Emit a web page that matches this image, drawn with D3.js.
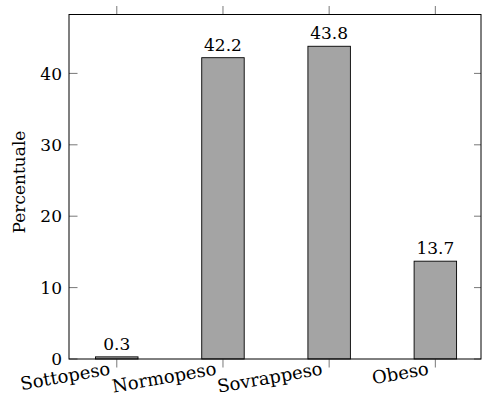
<!DOCTYPE html>
<html>
<head>
<meta charset="utf-8">
<script src="https://cdn.jsdelivr.net/npm/d3@7"></script>
<style>
  html, body { margin: 0; padding: 0; background: #fff; }
  svg { display: block; }
  text { font-family: "DejaVu Serif", "Liberation Serif", serif; fill: #000; }
</style>
</head>
<body>
<svg id="chart" width="482" height="396"></svg>
<script>
const categories = ["Sottopeso", "Normopeso", "Sovrappeso", "Obeso"];
const values = [0.3, 42.2, 43.8, 13.7];
const yTicks = [0, 10, 20, 30, 40];
const yLabel = "Percentuale";

const svg = d3.select("#chart");
const L = 69, R = 481, T = 14.5, B = 359;
const fontSize = 17;

const x = d3.scaleLinear().domain([-0.45, 3.43]).range([L, R]);
const y = d3.scaleLinear().domain([0, 48.25]).range([B, T]);
const barW = x(0.4) - x(0);

// bars
svg.append("g").selectAll("rect").data(values).join("rect")
  .attr("x", (d, i) => x(i) - barW / 2)
  .attr("y", d => y(d))
  .attr("width", barW)
  .attr("height", d => y(0) - y(d))
  .attr("fill", "#a4a4a4")
  .attr("stroke", "#000")
  .attr("stroke-width", 0.9);

// value labels
svg.append("g").selectAll("text").data(values).join("text")
  .attr("x", (d, i) => x(i))
  .attr("y", d => y(d) - 7)
  .attr("text-anchor", "middle")
  .attr("font-size", fontSize)
  .text(d => d.toFixed(1));

// ticks
const tickColor = "#555";
const tg = svg.append("g").attr("stroke", tickColor).attr("stroke-width", 0.8);
categories.forEach((c, i) => {
  tg.append("line").attr("x1", x(i)).attr("x2", x(i)).attr("y1", T - 8.5).attr("y2", T);
  tg.append("line").attr("x1", x(i)).attr("x2", x(i)).attr("y1", B).attr("y2", B + 8.5);
});
yTicks.forEach(t => {
  tg.append("line").attr("x1", L).attr("x2", L + 8.5).attr("y1", y(t)).attr("y2", y(t));
  tg.append("line").attr("x1", R - 7).attr("x2", R).attr("y1", y(t)).attr("y2", y(t));
});

// frame
svg.append("rect")
  .attr("x", L).attr("y", T).attr("width", R - L).attr("height", B - T)
  .attr("fill", "none").attr("stroke", "#000").attr("stroke-width", 1);

// y tick labels
svg.append("g").selectAll("text").data(yTicks).join("text")
  .attr("x", L - 7)
  .attr("y", d => y(d))
  .attr("dy", "0.36em")
  .attr("text-anchor", "end")
  .attr("font-size", fontSize)
  .text(d => d);

// x tick labels (rotated)
svg.append("g").selectAll("text").data(categories).join("text")
  .attr("transform", (d, i) => `translate(${x(i) - 7},${B + 9}) rotate(-10)`)
  .attr("dy", "0.36em")
  .attr("text-anchor", "end")
  .attr("font-size", 18)
  .text(d => d);

// y axis label
svg.append("text")
  .attr("transform", `translate(25,182) rotate(-90)`)
  .attr("text-anchor", "middle")
  .attr("font-size", fontSize)
  .text(yLabel);
</script>
</body>
</html>
